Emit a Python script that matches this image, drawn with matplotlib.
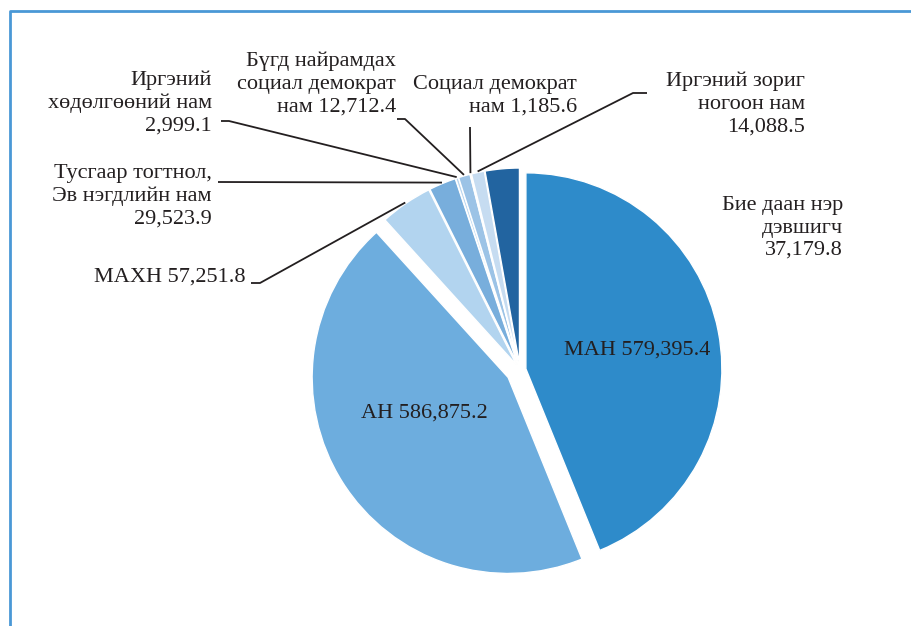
import matplotlib
matplotlib.use('Agg')
import matplotlib.pyplot as plt
import numpy as np

# ---- data ----
names = ['МАН', 'АН', 'МАХН', 'Тусгаар тогтнол,\nЭв нэгдлийн нам',
         'Иргэний\nхөдөлгөөний нам', 'Бүгд найрамдах\nсоциал демократ\nнам',
         'Социал демократ\nнам', 'Иргэний зориг\nногоон нам', 'Бие даан нэр\nдэвшигч']
values = [579395.4, 586875.2, 57251.8, 29523.9, 2999.1, 12712.4, 1185.6, 14088.5, 37179.8]
value_sep = [' ', ' ', ' ', '\n', '\n', ' ', ' ', '\n', '\n']
colors = ['#2E8BCA', '#6DADDE', '#B2D4EF', '#78AEDC', '#B8D5EF',
          '#9CC3E6', '#D2E3F3', '#C6DCF1', '#2264A0']

W, H = 911, 626
fig = plt.figure(figsize=(W / 100, H / 100), dpi=100)
ax = fig.add_axes([0, 0, 1, 1])

def py(y):
    return H - y

explode = [6, 14, 6, 6, 6, 6, 6, 6, 6]
wedges, _ = ax.pie(values, colors=colors, startangle=90, counterclock=False,
                   explode=explode, radius=196, center=(520, py(370)),
                   wedgeprops=dict(edgecolor='white', linewidth=1.0))

ax.set_xlim(0, W)
ax.set_ylim(0, H)
ax.set_aspect('equal')
ax.axis('off')

font = dict(family='Liberation Serif', fontsize=16, color='#231F20', linespacing=1.24)

labels = [f"{n}{s}{v:,.1f}" for n, s, v in zip(names, value_sep, values)]

# label placement: (x, y, ha)
pos = [(637, 350, 'center'), (424, 413, 'center'), (246, 277, 'right'),
       (212, 196, 'right'), (212, 103, 'right'), (396, 84, 'right'),
       (577, 96, 'right'), (805, 104, 'right'), (843, 228, 'right')]
for lab, (x, y, ha) in zip(labels, pos):
    ax.text(x, py(y), lab, ha=ha, va='center', multialignment='right', **font)

# leader lines: start points of label side (pixel)
leaders = {2: [(251, 283), (260, 283)],
           3: [(218, 182)],
           4: [(221, 121), (229, 121)],
           5: [(397, 119), (405, 119)],
           6: [(470, 127)],
           7: [(647, 93), (633, 93)]}
for i, pts in leaders.items():
    w = wedges[i]
    th = np.deg2rad((w.theta1 + w.theta2) / 2)
    cx, cy = w.center
    ex = cx + (w.r + 1) * np.cos(th)
    ey = cy + (w.r + 1) * np.sin(th)
    xs = [p[0] for p in pts] + [ex]
    ys = [py(p[1]) for p in pts] + [ey]
    ax.plot(xs, ys, color='#231F20', lw=1.3, solid_capstyle='butt')

# frame (top and left visible)
ax.plot([9.5, 9.5, W + 5], [-5, py(11), py(11)], color='#4A98D6', lw=2.0, clip_on=False)

fig.savefig('out.png', dpi=100)
